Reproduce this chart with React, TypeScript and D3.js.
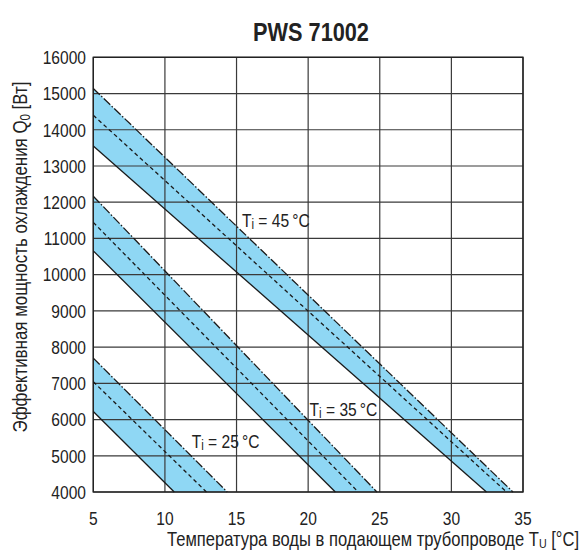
import React from "react";
import * as d3 from "d3";

// supply water temperature bands (room temperature Ti)
const roomTemps = [25, 35, 45];
// each band: lines run from T = 5 °C down to Q = 4000 W
const solidStartQ = [6220, 10657, 13550];
const solidEndT = [10.65, 21.9, 32.45];
const dashedStartQ = [7044, 11443, 14400];
const dashedEndT = [12.9, 23.5, 33.85];
const dashDotStartQ = [7696, 12166, 15140];
const dashDotEndT = [14.35, 24.8, 34.3];
// label anchors in data units
const labelT = [11.87, 20.1, 15.38];
const labelQ = [5228, 6086, 11306];

const xTicks = [5, 10, 15, 20, 25, 30, 35];
const yTicks = [4000, 5000, 6000, 7000, 8000, 9000, 10000, 11000, 12000, 13000, 14000, 15000, 16000];

const W = 580;
const H = 551;
const font = "'Liberation Sans', Arial, sans-serif";
const squeeze = 0.82; // the original uses a condensed face

// text drawn at (x, y) and squeezed horizontally
const NText: React.FC<{
  x: number;
  y: number;
  anchor?: string;
  size: number;
  bold?: boolean;
  rotate?: number;
  children: React.ReactNode;
}> = ({ x, y, anchor = "start", size, bold, rotate = 0, children }) => (
  <g transform={`translate(${x},${y}) rotate(${rotate}) scale(${squeeze},1)`}>
    <text textAnchor={anchor} fontSize={size} fontWeight={bold ? "bold" : "normal"} fill="#222">
      {children}
    </text>
  </g>
);

const App: React.FC = () => {
  const x = d3.scaleLinear().domain([5, 35]).range([93.3, 523]);
  const y = d3.scaleLinear().domain([4000, 16000]).range([492, 57.3]);
  const line = d3
    .line<[number, number]>()
    .x((d) => x(d[0]))
    .y((d) => y(d[1]));

  const xMin = 5;
  const yMin = 4000;

  return (
    <svg width={W} height={H} style={{ position: "absolute", left: 0, top: 0 }} fontFamily={font}>
      <rect width={W} height={H} fill="#fff" />
      <NText x={311} y={41} anchor="middle" size={26.5} bold>
        PWS 71002
      </NText>

      {/* bands */}
      {roomTemps.map((t, i) => (
        <path
          key={"band" + t}
          d={
            line([
              [xMin, solidStartQ[i]],
              [solidEndT[i], yMin],
              [dashDotEndT[i], yMin],
              [xMin, dashDotStartQ[i]],
            ]) + "Z"
          }
          fill="#8fd7f4"
          stroke="none"
        />
      ))}

      {/* grid */}
      {xTicks.map((t) => (
        <line key={"gx" + t} x1={x(t)} x2={x(t)} y1={y(4000)} y2={y(16000)} stroke="#3a3a3a" strokeWidth={1.2} />
      ))}
      {yTicks.map((t) => (
        <line key={"gy" + t} x1={x(5)} x2={x(35)} y1={y(t)} y2={y(t)} stroke="#3a3a3a" strokeWidth={1.2} />
      ))}
      <rect x={x(5)} y={y(16000)} width={x(35) - x(5)} height={y(4000) - y(16000)} fill="none" stroke="#222" strokeWidth={1.4} />

      {/* band lines */}
      {roomTemps.map((t, i) => (
        <g key={"lines" + t} fill="none" stroke="#1a1a1a" strokeWidth={1.3}>
          <path d={line([[xMin, solidStartQ[i]], [solidEndT[i], yMin]]) || ""} />
          <path d={line([[xMin, dashedStartQ[i]], [dashedEndT[i], yMin]]) || ""} strokeDasharray="4,3" />
          <path d={line([[xMin, dashDotStartQ[i]], [dashDotEndT[i], yMin]]) || ""} strokeDasharray="9,2,1.5,2" />
        </g>
      ))}

      {/* band labels */}
      {roomTemps.map((t, i) => (
        <NText key={"lab" + t} x={x(labelT[i])} y={y(labelQ[i])} size={19}>
          T
          <tspan fontSize={14} dy={2}>i</tspan>
          <tspan dy={-2}>{` = ${t}\u2009\u00b0C`}</tspan>
        </NText>
      ))}

      {/* y tick labels */}
      {yTicks.map((t) => (
        <NText key={"yl" + t} x={86} y={y(t) + 6.8} anchor="end" size={19}>
          {t}
        </NText>
      ))}
      {/* x tick labels */}
      {xTicks.map((t) => (
        <NText key={"xl" + t} x={x(t)} y={525} anchor="middle" size={19}>
          {t}
        </NText>
      ))}

      <NText x={373} y={546} anchor="middle" size={20.2}>
        Температура воды в подающем трубопроводе T
        <tspan fontSize={13} dy={2}>U</tspan>
        <tspan dy={-2}> [°C]</tspan>
      </NText>
      <NText x={27} y={257} anchor="middle" size={20.6} rotate={-90}>
        Эффективная мощность охлаждения Q
        <tspan fontSize={14} dy={3}>0</tspan>
        <tspan dy={-3}> [Вт]</tspan>
      </NText>
    </svg>
  );
};

export default App;
